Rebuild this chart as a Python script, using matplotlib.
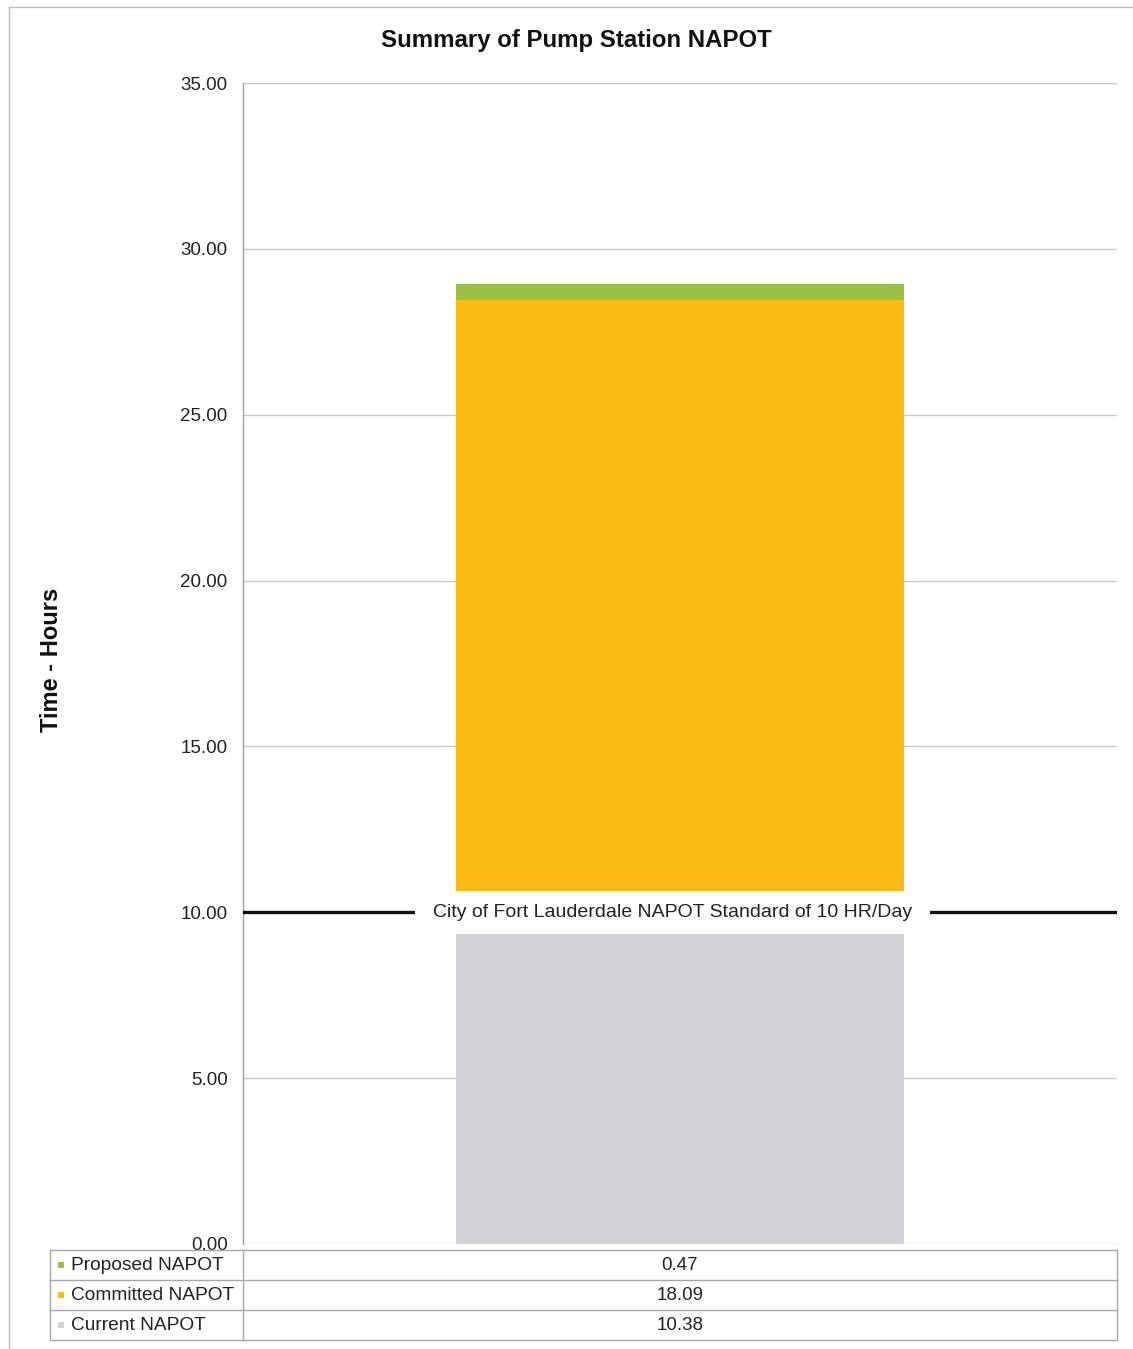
import matplotlib
matplotlib.use("Agg")
import matplotlib.pyplot as plt
from matplotlib.patches import Rectangle
from matplotlib.lines import Line2D
import matplotlib.transforms as mtransforms

plt.rcParams['font.family'] = ['Liberation Sans', 'DejaVu Sans']

series = ["Current NAPOT", "Committed NAPOT", "Proposed NAPOT"]
values = [10.38, 18.09, 0.47]
colors = ["#d2d3d6", "#fbbb14", "#9cbf47"]
yticks = [0, 5, 10, 15, 20, 25, 30, 35]
standard = 10
standard_label = "City of Fort Lauderdale NAPOT Standard of 10 HR/Day"
title = "Summary of Pump Station NAPOT"
ylabel = "Time - Hours"

W, H = 1133, 1349
fig = plt.figure(figsize=(W / 100, H / 100), dpi=100)
fig.patch.set_facecolor("white")

def fx(px):
    return px / W

def fy(py):
    return 1 - py / H

ax = fig.add_axes([fx(243), fy(1244), fx(1117) - fx(243), fy(83) - fy(1244)])
ax.set_facecolor("white")

bottom = 0
for name, v, c in zip(series, values, colors):
    ax.bar(0, v, bottom=bottom, width=0.513, color=c, edgecolor="none", zorder=2)
    bottom += v

ax.set_xlim(-0.5, 0.5)
ax.set_ylim(0, 35)
ax.set_yticks(yticks)
ax.set_yticklabels([f"{t:.2f}" for t in yticks], fontsize=13.5, color="#222222")
ax.tick_params(axis="y", length=0, pad=11)
ax.set_xticks([])
for t in yticks:
    ax.axhline(t, color="#c8c8c8", lw=1.0, zorder=1)
for s in ["top", "right", "bottom"]:
    ax.spines[s].set_visible(False)
ax.spines["left"].set_color("#a0a0a0")
ax.spines["left"].set_linewidth(1.0)

# standard line with white label mask
ax.axhline(standard, color="#111111", lw=2.4, zorder=3)
ax.axhspan(standard - 0.64, standard + 0.64, xmin=0.197, xmax=0.786,
           facecolor="white", edgecolor="none", zorder=4)
trans = mtransforms.blended_transform_factory(ax.transAxes, ax.transData)
ax.text(0.491, standard, standard_label, transform=trans, ha="center", va="center",
        fontsize=14, color="#222222", zorder=5)

fig.text(fx(576), fy(40), title, ha="center", va="center", fontsize=17.3,
         fontweight="bold", color="#111111")
fig.text(fx(52), fy(660), ylabel, ha="center", va="center", rotation=90,
         fontsize=17, fontweight="bold", color="#111111")

# outer chart border (top and left edges visible in the scan)
fig.add_artist(Line2D([fx(9), fx(1133)], [fy(7), fy(7)], color="#bbbbbb", lw=1.0))
fig.add_artist(Line2D([fx(9), fx(9)], [fy(7), fy(1349)], color="#bbbbbb", lw=1.0))

# data table
row_tops = [1250, 1280, 1310, 1340]
x_left, x_div, x_right = 50, 243, 1117
lc = "#a8a8a8"
for yy in row_tops:
    fig.add_artist(Line2D([fx(x_left), fx(x_right)], [fy(yy), fy(yy)], color=lc, lw=1.0))
for xx in [x_left, x_div, x_right]:
    fig.add_artist(Line2D([fx(xx), fx(xx)], [fy(row_tops[0]), fy(row_tops[-1])], color=lc, lw=1.0))

order = list(range(len(series)))[::-1]
for r, i in enumerate(order):
    yc = (row_tops[r] + row_tops[r + 1]) / 2
    fig.add_artist(Rectangle((fx(58), fy(yc + 3)), fx(6), 6 / H,
                             transform=fig.transFigure, facecolor=colors[i], edgecolor="none"))
    fig.text(fx(71), fy(yc), series[i], ha="left", va="center", fontsize=13.8, color="#222222")
    fig.text(fx(680), fy(yc), f"{values[i]:.2f}", ha="center", va="center",
             fontsize=13.5, color="#222222")

fig.savefig("out.png", dpi=100, facecolor="white")
